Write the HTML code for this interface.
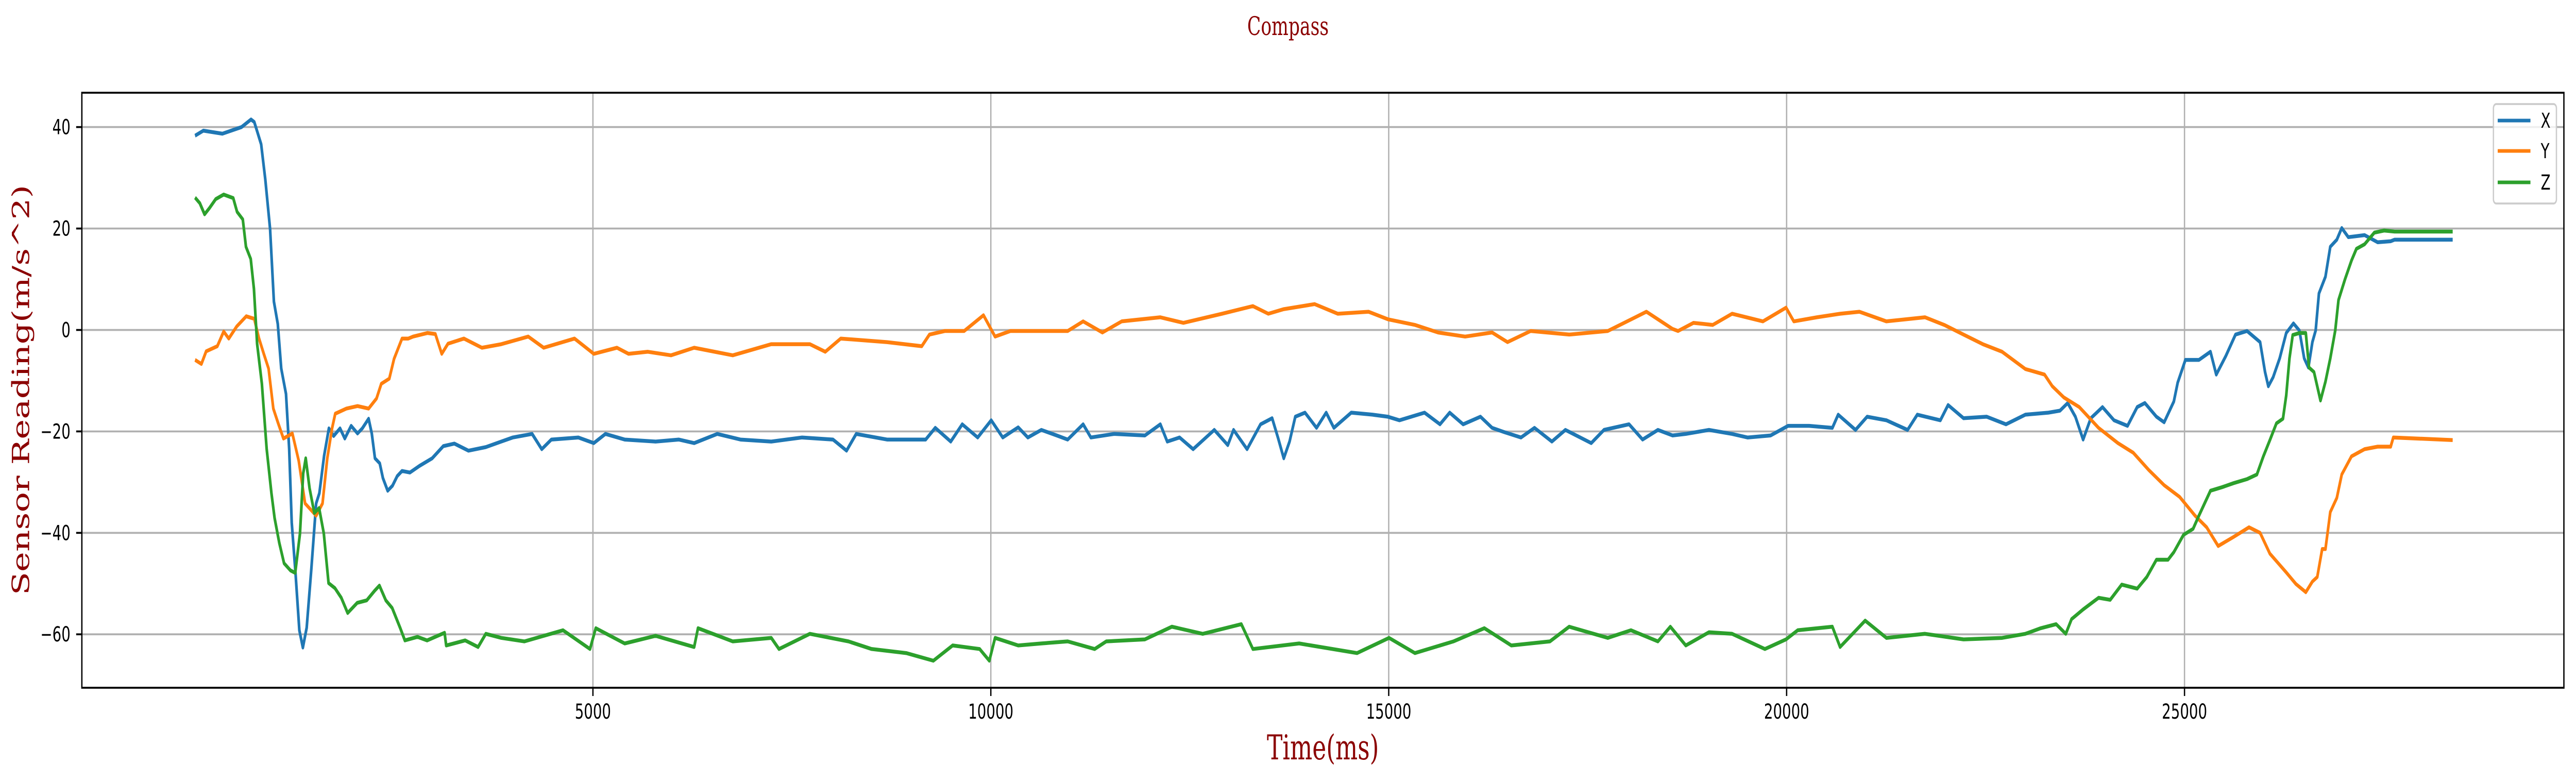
<!DOCTYPE html>
<html><head><meta charset="utf-8">
<style>
html,body{margin:0;padding:0;background:#fff;overflow:hidden;width:100%;height:100%;}
svg{display:block;width:100vw;height:100vh;}
</style></head>
<body>
<svg id="chart" viewBox="0 0 7238 1516" preserveAspectRatio="none" xmlns="http://www.w3.org/2000/svg">
<rect x="0" y="0" width="7238" height="1516" fill="#fff"/>
<text x="3619" y="68" text-anchor="middle" font-family="DejaVu Serif, Liberation Serif, serif" font-size="50" fill="#8b0000">Compass</text>
<g id="grid"></g>
<defs><clipPath id="plotclip"><rect x="230" y="180" width="6974" height="1155"/></clipPath></defs>
<g id="series" clip-path="url(#plotclip)"></g>
<rect x="230" y="180" width="6974" height="1155" fill="none" stroke="#000" stroke-width="3.7"/>
<g id="ticks"></g>
<text x="3717" y="1474" text-anchor="middle" font-family="DejaVu Serif, Liberation Serif, serif" font-size="66" fill="#8b0000">Time(ms)</text>
<text transform="translate(82,757) rotate(-90)" text-anchor="middle" font-family="DejaVu Serif, Liberation Serif, serif" font-size="66" fill="#8b0000">Sensor Reading(m/s^2)</text>
<g id="legend">
<rect x="7006" y="202" width="177" height="193" rx="8" fill="#fff" fill-opacity="0.8" stroke="#cccccc" stroke-width="3.7"/>
</g>
</svg>
<script>
// ---- data ----
const xTicks = [5000, 10000, 15000, 20000, 25000];
const yTicks = [-60, -40, -20, 0, 20, 40];
const seriesNames = ["X", "Y", "Z"];
const seriesColors = ["#1f77b4", "#ff7f0e", "#2ca02c"];

const tX = [0,105,344,584,704,744,784,831,883,943,991,1040,1083,1143,1183,1215,1263,1311,1355,1403,1462,1522,1562,1622,1682,1742,1822,1882,1962,2042,2102,2181,2221,2261,2321,2361,2421,2481,2541,2601,2700,2820,2980,3120,3259,3436,3654,3848,3993,4236,4357,4478,4817,5011,5157,5399,5787,6078,6272,6563,6854,7241,7629,8017,8187,8308,8696,8938,9181,9302,9496,9641,9835,10005,10150,10344,10465,10635,10829,10966,11160,11257,11548,11936,12130,12217,12372,12542,12808,12978,13050,13220,13390,13535,13608,13681,13754,13826,13948,14093,14214,14311,14529,14796,14990,15135,15450,15644,15766,15935,16153,16299,16444,16662,16832,17050,17220,17545,17705,18020,18190,18383,18567,18733,19024,19315,19509,19799,20018,20284,20575,20648,20866,21011,21254,21520,21642,21932,22029,22223,22514,22757,23000,23290,23435,23532,23629,23726,23823,23969,24114,24284,24405,24502,24647,24744,24866,24914,25011,25181,25326,25399,25520,25641,25786,25950,26012,26053,26114,26196,26278,26369,26443,26504,26557,26607,26648,26689,26771,26832,26914,26976,27058,27263,27427,27591,27640,28370];
const vX = [38.3,39.3,38.7,40,41.5,41,39,36.6,29.7,19.9,5.6,1.2,-7.6,-12.6,-23.4,-38,-48,-59.2,-62.6,-58.7,-47,-34.2,-32.2,-24.8,-19.4,-20.9,-19.4,-21.4,-18.9,-20.4,-19.4,-17.5,-20.4,-25.3,-26.3,-29.2,-31.7,-30.7,-28.8,-27.8,-28.1,-26.8,-25.3,-22.9,-22.4,-23.8,-23.1,-22,-21.2,-20.5,-23.5,-21.6,-21.2,-22.3,-20.5,-21.6,-22,-21.6,-22.3,-20.5,-21.6,-22,-21.2,-21.6,-23.8,-20.5,-21.6,-21.6,-21.6,-19.3,-22,-18.6,-21.2,-17.8,-21.2,-19.2,-21.2,-19.7,-20.8,-21.6,-18.6,-21.2,-20.5,-20.8,-18.6,-22,-21.2,-23.5,-19.7,-22.7,-19.7,-23.5,-18.6,-17.4,-21.2,-25.3,-22,-17.1,-16.3,-19.3,-16.3,-19.3,-16.3,-16.7,-17.1,-17.8,-16.3,-18.6,-16.3,-18.6,-17.1,-19.3,-20.1,-21.2,-19.3,-22,-19.7,-22.3,-19.7,-18.6,-21.6,-19.7,-20.8,-20.5,-19.7,-20.5,-21.2,-20.8,-18.9,-18.9,-19.3,-16.7,-19.7,-17.1,-17.8,-19.7,-16.7,-17.8,-14.8,-17.4,-17.1,-18.6,-16.7,-16.3,-15.9,-14.4,-17.1,-21.6,-17.4,-15.2,-17.8,-18.9,-15.2,-14.4,-17.1,-18.2,-14.1,-10.4,-5.9,-5.9,-4.3,-8.8,-5.1,-0.9,-0.2,-2.4,-8.3,-11.1,-9.3,-5.6,-0.6,1.3,-0.1,-5.6,-7.4,-2.4,-0.1,7.2,10.5,16.4,17.8,20.1,18.3,18.7,17.3,17.5,17.8,17.8];

const tY = [0,80,140,280,360,424,524,644,744,804,864,924,984,1043,1111,1223,1303,1383,1522,1602,1662,1722,1762,1902,2042,2181,2281,2341,2441,2501,2601,2680,2740,2920,3020,3100,3179,3379,3605,3848,4187,4381,4769,5011,5302,5448,5690,5981,6272,6757,7241,7726,7920,8114,8696,9132,9229,9423,9665,9908,10053,10247,10489,10635,10966,11160,11402,11645,12130,12420,12905,13293,13487,13681,14069,14360,14747,14990,15329,15620,15960,16299,16493,16784,17268,17753,18238,18567,18636,18830,19072,19315,19702,19993,20090,20381,20672,20915,21254,21739,21981,22223,22466,22708,23000,23241,23339,23484,23678,23920,24163,24356,24550,24744,24938,25132,25278,25423,25617,25811,25950,26073,26278,26401,26524,26607,26668,26730,26771,26832,26914,26976,27099,27263,27427,27591,27624,28370];
const vY = [-5.9,-6.7,-4.2,-3.2,-0.3,-1.7,0.7,2.7,2.2,-1.7,-4.7,-7.6,-15.5,-18.3,-21.4,-20.4,-25.8,-34.2,-36.6,-34.2,-25.3,-19.4,-16.5,-15.5,-15,-15.5,-13.5,-10.6,-9.6,-5.7,-1.7,-1.7,-1.3,-0.6,-0.8,-4.7,-2.7,-1.7,-3.5,-2.8,-1.3,-3.5,-1.7,-4.7,-3.5,-4.7,-4.3,-5,-3.5,-5,-2.8,-2.8,-4.3,-1.7,-2.4,-3.2,-0.9,-0.2,-0.2,2.9,-1.3,-0.2,-0.2,-0.2,-0.2,1.7,-0.5,1.7,2.5,1.4,3.2,4.7,3.2,4.1,5.1,3.2,3.6,2.1,1,-0.5,-1.3,-0.5,-2.4,-0.2,-0.9,-0.2,3.6,0.2,-0.2,1.4,1,3.2,1.7,4.4,1.7,2.5,3.2,3.6,1.7,2.5,1,-0.9,-2.8,-4.3,-7.7,-8.8,-11.1,-13.3,-15.2,-19.3,-22.3,-24.2,-27.6,-30.6,-32.9,-36.6,-38.9,-42.6,-40.8,-38.9,-40,-44.1,-47.8,-50.1,-51.7,-49.6,-48.7,-43.2,-43.2,-35.9,-33.1,-28.5,-24.9,-23.5,-23,-23,-21.2,-21.7];

const tZ = [0,60,120,180,260,360,480,528,600,640,700,740,780,840,900,960,1000,1059,1119,1199,1259,1319,1359,1391,1439,1499,1559,1618,1678,1758,1838,1918,2038,2158,2257,2317,2397,2477,2577,2637,2796,2916,3136,3156,3395,3557,3654,3848,4139,4624,4963,5036,5399,5787,6272,6320,6757,7241,7338,7726,8211,8502,8938,9278,9520,9859,9981,10053,10344,10635,10966,11305,11451,11936,12275,12663,13148,13293,13875,14602,15004,15329,15814,16202,16541,17026,17268,17753,18044,18383,18539,18733,19024,19315,19727,19993,20139,20575,20672,20987,21254,21739,22223,22708,23000,23193,23387,23508,23581,23726,23920,24066,24211,24405,24526,24647,24793,24866,24987,25108,25181,25326,25472,25617,25786,25909,25991,26073,26155,26237,26278,26319,26360,26443,26524,26565,26627,26709,26771,26832,26894,26935,27017,27099,27160,27263,27386,27509,27640,28370];
const vZ = [26.1,25,22.8,24,25.8,26.7,26,23.3,21.8,16.4,14,8.1,-2.7,-10.6,-23.4,-32.2,-37.1,-42,-46,-47.4,-47.9,-40.1,-28.3,-25.3,-31.2,-36.1,-35.1,-40.1,-49.9,-50.9,-52.8,-55.8,-53.8,-53.3,-51.4,-50.4,-53.3,-54.8,-58.7,-61.2,-60.5,-61.2,-59.7,-62.2,-61.2,-62.5,-59.9,-60.7,-61.4,-59.2,-62.9,-58.8,-61.8,-60.3,-62.5,-58.8,-61.4,-60.7,-62.9,-59.9,-61.4,-62.9,-63.7,-65.2,-62.2,-62.9,-65.2,-60.7,-62.2,-61.8,-61.4,-62.9,-61.4,-61,-58.5,-59.9,-58,-62.9,-61.8,-63.7,-60.7,-63.7,-61.4,-58.8,-62.2,-61.4,-58.5,-60.7,-59.2,-61.4,-58.5,-62.2,-59.6,-59.9,-62.9,-61,-59.2,-58.5,-62.5,-57.3,-60.7,-59.9,-61,-60.7,-59.9,-58.8,-58,-59.9,-57,-55.1,-52.8,-53.2,-50.2,-51,-48.7,-45.3,-45.3,-43.8,-40.4,-39.2,-36.6,-31.7,-31,-30.2,-29.4,-28.5,-24.9,-21.7,-18.4,-17.5,-12.9,-5.6,-1,-0.6,-0.6,-7.4,-8.3,-13.9,-10.2,-5.6,-0.1,5.9,10,13.7,16,16.9,19.2,19.6,19.4,19.4];

// ---- axes ----
const NS = "http://www.w3.org/2000/svg";
const X0 = 548, XS = 0.2236;
const Y0 = 640.5, YS = 9.846;
function xScale(t){ return X0 + t * XS; }
function yScale(v){ return Y0 - v * YS; }
const PL = 230, PR = 7204, PT = 180, PB = 1335;

const grid = document.getElementById('grid');
const ticks = document.getElementById('ticks');
xTicks.forEach(function(t){
  const x = xScale(t);
  const g = document.createElementNS(NS,'line');
  g.setAttribute('x1',x); g.setAttribute('x2',x); g.setAttribute('y1',PT); g.setAttribute('y2',PB);
  g.setAttribute('stroke','#b0b0b0'); g.setAttribute('stroke-width','3.7');
  
  
  grid.appendChild(g);
  const tk = document.createElementNS(NS,'line');
  tk.setAttribute('x1',x); tk.setAttribute('x2',x); tk.setAttribute('y1',PB); tk.setAttribute('y2',PB+16);
  tk.setAttribute('stroke','#000'); tk.setAttribute('stroke-width','3.7');
  
  
  ticks.appendChild(tk);
  const lb = document.createElementNS(NS,'text');
  lb.setAttribute('x',x); lb.setAttribute('y',1395);
  lb.setAttribute('text-anchor','middle');
  lb.setAttribute('font-family','DejaVu Sans, Liberation Sans, sans-serif');
  lb.setAttribute('font-size','40');
  lb.textContent = String(t);
  
  
  ticks.appendChild(lb);
});
yTicks.forEach(function(v){
  const y = yScale(v);
  const g = document.createElementNS(NS,'line');
  g.setAttribute('x1',PL); g.setAttribute('x2',PR); g.setAttribute('y1',y); g.setAttribute('y2',y);
  g.setAttribute('stroke','#b0b0b0'); g.setAttribute('stroke-width','3.7');
  
  
  grid.appendChild(g);
  const tk = document.createElementNS(NS,'line');
  tk.setAttribute('x1',PL-16); tk.setAttribute('x2',PL); tk.setAttribute('y1',y); tk.setAttribute('y2',y);
  tk.setAttribute('stroke','#000'); tk.setAttribute('stroke-width','3.7');
  
  
  ticks.appendChild(tk);
  const lb = document.createElementNS(NS,'text');
  lb.setAttribute('x',198); lb.setAttribute('y',y+14);
  lb.setAttribute('text-anchor','end');
  lb.setAttribute('font-family','DejaVu Sans, Liberation Sans, sans-serif');
  lb.setAttribute('font-size','40');
  lb.textContent = v < 0 ? '\u2212' + Math.abs(v) : String(v);
  
  
  ticks.appendChild(lb);
});

// ---- series ----
const seriesG = document.getElementById('series');
const allT = [tX, tY, tZ], allV = [vX, vY, vZ];
for (let s = 0; s < 3; s++) {
  let d = '';
  for (let i = 0; i < allT[s].length; i++) {
    d += (i ? 'L' : 'M') + xScale(allT[s][i]).toFixed(1) + ',' + yScale(allV[s][i]).toFixed(1);
  }
  const p = document.createElementNS(NS,'path');
  p.setAttribute('d', d);
  p.setAttribute('fill','none');
  p.setAttribute('stroke', seriesColors[s]);
  p.setAttribute('stroke-width','7.5');
  p.setAttribute('stroke-linejoin','round');
  
  
  seriesG.appendChild(p);
}

// ---- legend ----
const legend = document.getElementById('legend');
const legendY = [234, 293, 354];
for (let s = 0; s < 3; s++) {
  const l = document.createElementNS(NS,'line');
  l.setAttribute('x1',7018); l.setAttribute('x2',7110);
  l.setAttribute('y1',legendY[s]); l.setAttribute('y2',legendY[s]);
  l.setAttribute('stroke', seriesColors[s]); l.setAttribute('stroke-width','6.9');
  
  
  legend.appendChild(l);
  const t = document.createElementNS(NS,'text');
  t.setAttribute('x',7139); t.setAttribute('y',legendY[s]+14);
  t.setAttribute('font-family','DejaVu Sans, Liberation Sans, sans-serif');
  t.setAttribute('font-size','40');
  t.textContent = seriesNames[s];
  
  
  legend.appendChild(t);
}
</script>
</body></html>
